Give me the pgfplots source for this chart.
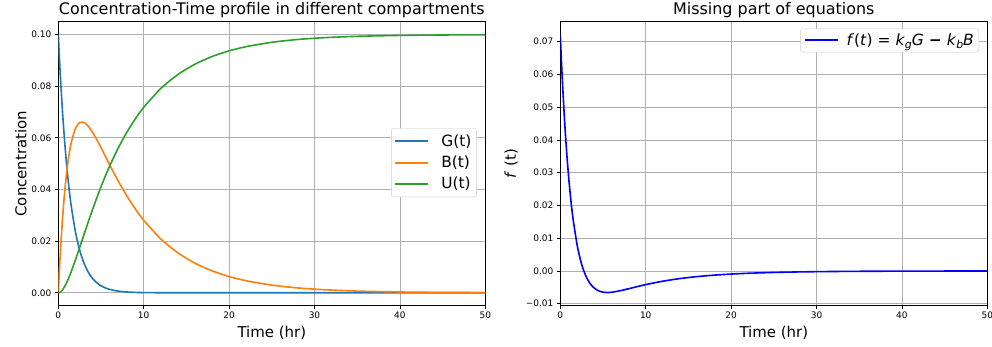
\documentclass[border=0pt]{standalone}
\usepackage{fontspec}
\setmainfont{DejaVu Sans}
\usepackage{pgfplots}
\usepackage{pgfplotstable}
\pgfplotsset{compat=1.18}

\definecolor{tabblue}{HTML}{1F77B4}
\definecolor{taborange}{HTML}{FF7F0E}
\definecolor{tabgreen}{HTML}{2CA02C}
\definecolor{gridgray}{HTML}{B0B0B0}
\definecolor{legframe}{HTML}{CCCCCC}

% Two-step kinetics G -> B -> U, sampled values
\pgfplotstableread{
t      G          B          U          f
0      0.100000   0.000000   0.000000   0.072000
0.125  0.091393   0.008525   0.000082   0.064524
0.25   0.083527   0.016158   0.000315   0.057715
0.5    0.069768   0.029061   0.001171   0.045874
0.75   0.058275   0.039265   0.002460   0.036068
1      0.048675   0.047237   0.004088   0.027960
1.25   0.040657   0.053364   0.005979   0.021268
1.5    0.033960   0.057969   0.008071   0.015756
2      0.023693   0.063649   0.012658   0.007512
2.5    0.016530   0.065936   0.017534   0.002012
3      0.011533   0.065975   0.022492  -0.001592
3.5    0.008046   0.064560   0.027394  -0.003891
4      0.005613   0.062233   0.032154  -0.005294
4.5    0.003916   0.059369   0.036715  -0.006085
5      0.002732   0.056217   0.041051  -0.006466
5.5    0.001906   0.052948   0.045146  -0.006570
6      0.001330   0.049676   0.048994  -0.006493
7      0.000647   0.043386   0.055967  -0.006042
8      0.000315   0.037647   0.062038  -0.005420
9      0.000153   0.032553   0.067294  -0.004773
10     0.000075   0.028090   0.071835  -0.004160
12     0.000018   0.020857   0.079125  -0.003116
14     0.000004   0.015464   0.084532  -0.002317
16     0.000001   0.011458   0.088541  -0.001718
18     0.000000   0.008490   0.091510  -0.001274
20     0.000000   0.006289   0.093711  -0.000943
22     0.000000   0.004659   0.095341  -0.000699
25     0.000000   0.002971   0.097029  -0.000446
28     0.000000   0.001895   0.098105  -0.000284
31     0.000000   0.001208   0.098792  -0.000181
35     0.000000   0.000663   0.099337  -0.000100
40     0.000000   0.000313   0.099687  -0.000047
45     0.000000   0.000148   0.099852  -0.000022
50     0.000000   0.000070   0.099930  -0.000011
}\kinetics

\pgfplotsset{
  panel/.style={
    scale only axis, width=427bp, height=284bp,
    xmin=0, xmax=50, xtick={0,10,...,50},
    scaled x ticks=false, scaled y ticks=false,
    grid=major, grid style={gridgray, line width=0.8bp},
    axis line style={line width=0.8bp},
    tick align=outside, tick pos=left,
    major tick length=3.5bp,
    every tick/.style={black, line width=0.8bp},
    tick label style={font=\fontsize{9}{10}\selectfont},
    /pgf/number format/assume math mode=true,
    xticklabel style={yshift=1bp},
    label style={font=\fontsize{15}{17}\selectfont},
    every axis title shift=0pt,
    title style={font=\fontsize{16}{18}\selectfont, at={(axis description cs:0.5,1.041)}, anchor=center},
    xlabel style={at={(axis description cs:0.5,-0.096)}, anchor=center},
    legend cell align=left,
    legend style={draw=legframe, rounded corners=2bp, fill=white,
      font=\fontsize{15.5}{17}\selectfont, row sep=4bp, inner xsep=3bp, inner ysep=4.5bp},
    legend image code/.code={\draw[##1, line width=2bp] plot coordinates {(0bp,0bp) (33bp,0bp)};},
    every axis plot/.append style={line width=1.6bp},
  }
}

\begin{document}
\begin{tikzpicture}
\path[use as bounding box] (0bp,0bp) rectangle (992bp,347bp);

\begin{axis}[panel,
  at={(58.3bp,41.3bp)}, anchor=south west,
  ymin=-0.005, ymax=0.105,
  ytick={0,0.02,0.04,0.06,0.08,0.1},
  yticklabels={0.00,0.02,0.04,0.06,0.08,0.10},
  xlabel={Time (hr)}, ylabel={Concentration},
  ylabel style={at={(axis description cs:-0.088,0.5)}, anchor=center},
  title={Concentration-Time profile in different compartments},
  legend style={at={(0.9796,0.504)}, anchor=east,
    /tikz/every odd column/.append style={column sep=10bp}},
]
\addplot[tabblue, smooth, tension=0.4] table[x=t, y=G] {\kinetics};
\addlegendentry{G(t)}
\addplot[taborange, smooth, tension=0.4] table[x=t, y=B] {\kinetics};
\addlegendentry{B(t)}
\addplot[tabgreen, smooth, tension=0.4] table[x=t, y=U] {\kinetics};
\addlegendentry{U(t)}
\end{axis}

\begin{axis}[panel,
  at={(560.3bp,41.3bp)}, anchor=south west,
  ymin=-0.0106, ymax=0.0761,
  ytick={-0.01,0,0.01,0.02,0.03,0.04,0.05,0.06,0.07},
  yticklabels={−0.01,0.00,0.01,0.02,0.03,0.04,0.05,0.06,0.07},
  xlabel={Time (hr)}, ylabel={\textit{f} (t)},
  ylabel style={at={(axis description cs:-0.115,0.5)}, anchor=center},
  title={Missing part of equations},
  legend style={at={(0.9806,0.9754)}, anchor=north east, inner ysep=3bp,
    /tikz/every odd column/.append style={column sep=6bp}},
]
\addplot[blue, smooth, tension=0.4] table[x=t, y=f] {\kinetics};
\addlegendentry{\textit{f}(\textit{t})\hspace{5bp}=\hspace{5bp}\textit{k}\raisebox{-0.35ex}{\fontsize{11}{11}\selectfont\textit{g}}\textit{G}\hspace{5bp}\textbf{−}\hspace{5bp}\textit{k}\raisebox{-0.35ex}{\fontsize{11}{11}\selectfont\textit{b}}\textit{B}}
\end{axis}
\end{tikzpicture}
\end{document}
